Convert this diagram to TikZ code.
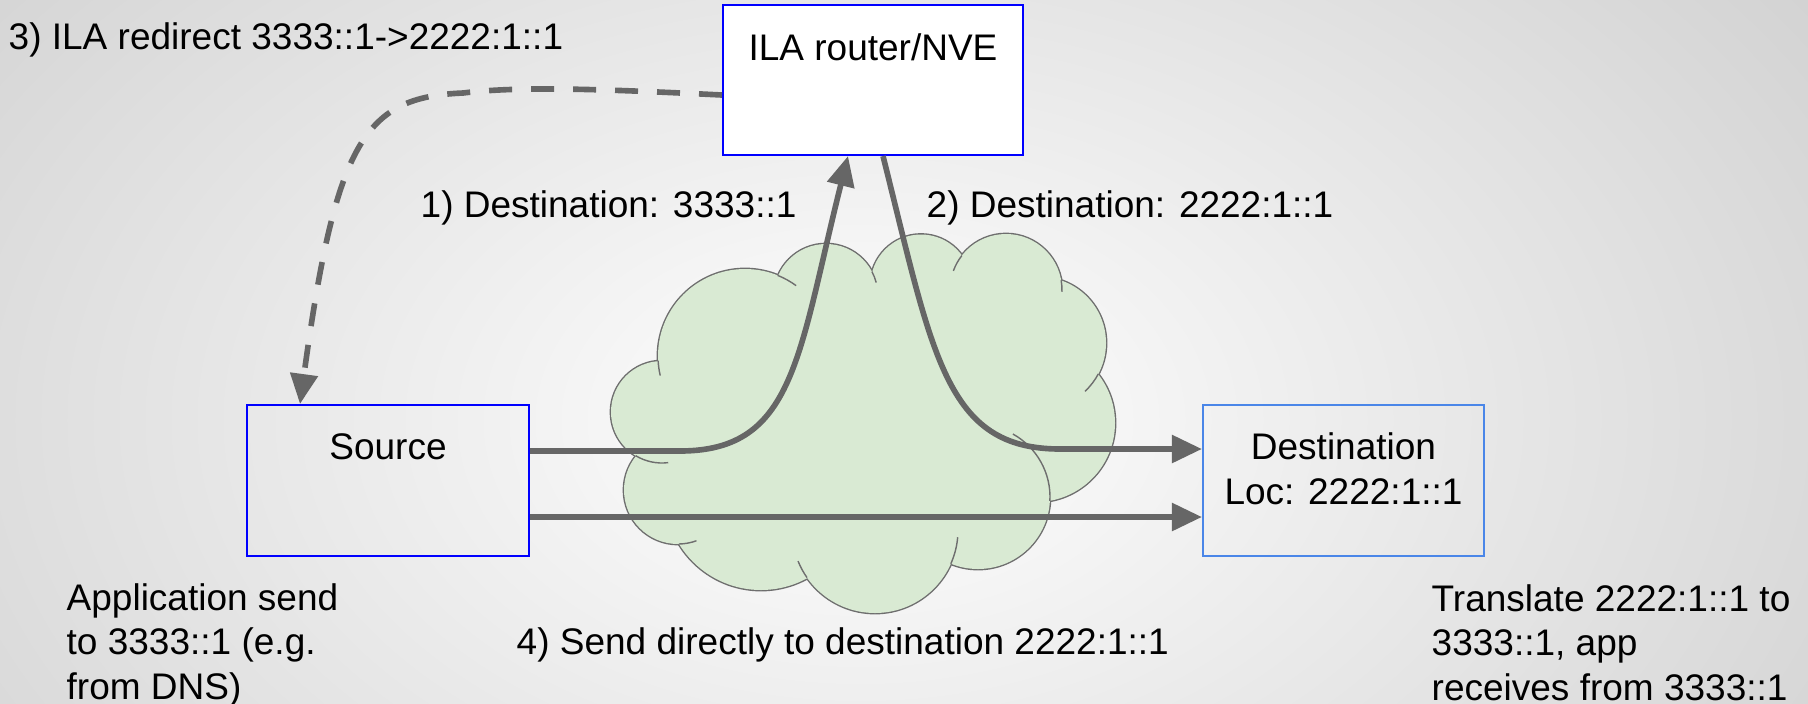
\documentclass[tikz,border=0pt]{standalone}
\usepackage{fontspec}
\setmainfont{Liberation Sans}
\usetikzlibrary{arrows.meta, positioning}

\definecolor{arrowgray}{HTML}{666666}
\definecolor{cloudgreen}{HTML}{D9EAD3}
\definecolor{cloudline}{HTML}{6E6E6E}
\definecolor{boxblue}{HTML}{0000FF}
\definecolor{lightblue}{HTML}{4A86E8}
\definecolor{bggray}{HTML}{CDCDCD}

\tikzstyle{box} = [rectangle, draw=boxblue, line width=0.6pt, inner sep=0pt]
\tikzstyle{txt} = [inner sep=0pt, anchor=base]
\tikzstyle{note} = [inner sep=0pt, anchor=base west, align=left]
\tikzstyle{arrow} = [line width=1.6pt, draw=arrowgray, -{Triangle[length=3mm, width=2.7mm]}]
\tikzstyle{dasharrow} = [arrow, dash pattern=on 2.3mm off 1.9mm]
\tikzstyle{puff} = [draw=cloudline, line width=0.8pt]
\tikzstyle{tail} = [draw=cloudline, line width=0.4pt]

\begin{document}
\begin{tikzpicture}[x=0.1mm, y=-0.1mm, font=\fontsize{10.53pt}{12.66pt}\selectfont]

\useasboundingbox (0,0) rectangle (1808,703);
% background
\begin{scope}
\clip (0,0) rectangle (1808,703);
\shade[inner color=white, outer color=bggray] (-440,-430) rectangle (2160,1270);
\end{scope}

% cloud
\foreach \cx/\cy/\r in {662/412/51, 745/356/87, 826/296/52, 921/285/50.5, 1006/290/56, 1040/343/66, 1036/423/79, 978/497/72, 875/530/83, 761/494/96, 678/490/54}
  \draw[puff] (\cx,\cy) circle[radius=\r];
\fill[cloudgreen] (662,412) -- (745,356) -- (826,296) -- (921,285) -- (1006,290) -- (1040,343) -- (1036,423) -- (978,497) -- (875,530) -- (761,494) -- (678,490) -- cycle;
\foreach \cx/\cy/\r in {662/412/51, 745/356/87, 826/296/52, 921/285/50.5, 1006/290/56, 1040/343/66, 1036/423/79, 978/497/72, 875/530/83, 761/494/96, 678/490/54}
  \fill[cloudgreen] (\cx,\cy) circle[radius=\r];
\foreach \cx/\cy/\r/\a/\b in {745/356/87/177/167, 745/356/87/-68/-54, 662/412/51/121/83, 678/490/54/89/70, 875/530/83/145/158, 875/530/83/24/5, 978/497/72/3/-61, 1040/343/66/28/47, 1006/290/56/-10/2, 1006/290/56/218/200, 826/296/52/-28/-15}
  \draw[tail] (\cx,\cy) ++(\a:\r) arc[start angle=\a, end angle=\b, radius=\r];

% boxes
\node (ila) [box, fill=white, minimum width=30mm, minimum height=15mm] at (873,80) {};
\node (src) [box, minimum width=28.2mm, minimum height=15.1mm] at (388,480.5) {};
\node (dst) [box, draw=lightblue, minimum width=28.1mm, minimum height=15.1mm] at (1343.5,480.5) {};

\node (ilatext) [txt] at (873,60) {ILA router/NVE};
\node (srctext) [txt] at (388,459) {Source};
\node (dsttext) [txt, align=center] at (1343.5,504) {Destination\\Loc: 2222:1::1};

% labels (multi-line ones sit on their last line)
\node (redirect) [note] at (8,49) {3) ILA redirect 3333::1->2222:1::1};
\node (step1) [note] at (420,217) {1) Destination: 3333::1};
\node (step2) [note] at (926,217) {2) Destination: 2222:1::1};
\node (step4) [note] at (516,654) {4) Send directly to destination 2222:1::1};
\node (app) [note] at (66,699) {Application send\\to 3333::1 (e.g.\\from DNS)};
\node (xlate) [note] at (1431,700) {Translate 2222:1::1 to\\3333::1, app\\receives from 3333::1};

% connectors
\draw [arrow] (src.east |- 0,451) -- (680,451) .. controls (795,451) and (798,355) .. (ila.south -| 848,0);
\draw [arrow] (ila.south -| 883,0) .. controls (933,355) and (945,449) .. (1060,449) -- (dst.west |- 0,449);
\draw [dasharrow] (ila.west |- 0,95) .. controls (600,89) and (520,86) .. (463,93) .. controls (365,97) and (336,140) .. (src.north -| 300,0);
\draw [arrow] (src.east |- 0,517) -- (dst.west |- 0,517);

\end{tikzpicture}
\end{document}
